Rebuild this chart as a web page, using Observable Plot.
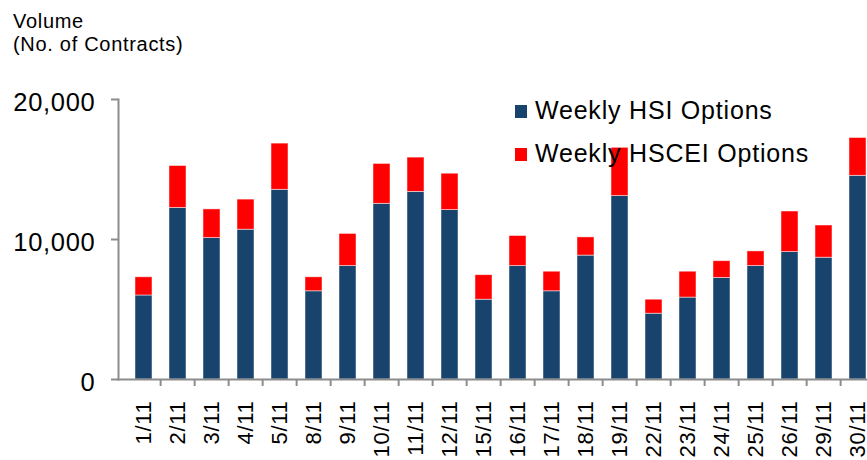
<!DOCTYPE html>
<html>
<head>
<meta charset="utf-8">
<script src="https://cdn.jsdelivr.net/npm/d3@7"></script>
<script src="https://cdn.jsdelivr.net/npm/@observablehq/plot@0.6"></script>
<style>
  html, body { margin: 0; padding: 0; background: #fff; overflow: hidden; }
  #wrap { position: relative; width: 867px; height: 460px; font-family: "Liberation Sans", Arial, sans-serif; }
  #ytitle { position: absolute; left: 13px; top: 10px; font-size: 20px; line-height: 23px; letter-spacing: 0.7px; color: #000; }
  #legend { position: absolute; left: 515px; top: 98px; font-size: 25px; line-height: 25px; letter-spacing: 0.8px; color: #000; }
  .item { position: relative; height: 43px; }
  .sw { position: absolute; left: 0; top: 7px; width: 12px; height: 13px; }
  .lab { position: absolute; left: 20px; top: 0; white-space: nowrap; }
</style>
</head>
<body>
<div id="wrap">
  <div id="chart"></div>
  <div id="ytitle">Volume<br>(No. of Contracts)</div>
  <div id="legend"></div>
</div>
<script>
const dates = ["1/11","2/11","3/11","4/11","5/11","8/11","9/11","10/11","11/11","12/11","15/11","16/11","17/11","18/11","19/11","22/11","23/11","24/11","25/11","26/11","29/11","30/11"];
const hsiOptions = [6000,12250,10100,10700,13550,6300,8100,12550,13400,12100,5700,8100,6300,8850,13100,4700,5850,7250,8100,9100,8700,14550];
const hsceiOptions = [1300,3000,2050,2150,3300,1000,2300,2850,2450,2600,1750,2150,1400,1300,3450,1000,1850,1200,1050,2900,2300,2700];
const seriesNames = ["Weekly HSI Options", "Weekly HSCEI Options"];
const seriesColors = ["#17436c", "#ff0000"];
const yTicks = [0, 10000, 20000];

const data = [];
dates.forEach((d, i) => {
  data.push({date: d, series: seriesNames[0], value: hsiOptions[i]});
  data.push({date: d, series: seriesNames[1], value: hsceiOptions[i]});
});

const xRange = [118, 882];
const step = (xRange[1] - xRange[0]) / dates.length;

const chart = Plot.plot({
  width: 867,
  height: 460,
  marginLeft: 118,
  marginRight: 0,
  marginTop: 99,
  marginBottom: 81,
  style: {fontFamily: "'Liberation Sans', Arial, sans-serif", color: "#000", background: "#fff", letterSpacing: "0.7px"},
  x: {domain: dates, range: xRange, paddingInner: 0.5, paddingOuter: 0.25, align: 0.5},
  y: {domain: [0, 20000]},
  color: {domain: seriesNames, range: seriesColors},
  marks: [
    Plot.barY(data, {x: "date", y: "value", fill: "series", stroke: "#ffffff", strokeOpacity: 0.6, strokeWidth: 0.8}),
    Plot.frame({anchor: "left", stroke: "#8c8c8c", strokeWidth: 2}),
    Plot.frame({anchor: "bottom", stroke: "#8c8c8c", strokeWidth: 2}),
    Plot.ruleX(dates.slice(1), {x: d => d, dx: -step / 2, y1: 0, y2: 0, insetBottom: -7, stroke: "#8c8c8c", strokeWidth: 2}),
    Plot.axisY({ticks: yTicks, tickSize: 7, stroke: "#8c8c8c", strokeWidth: 2, fill: "none", label: null}),
    Plot.axisY({ticks: yTicks, tickFormat: d3.format(","), tickSize: 0, tickPadding: 23, dy: 3, fontSize: 25.5, fill: "#000", label: null}),
    Plot.axisX({tickRotate: -90, tickSize: 0, tickPadding: 21, fontSize: 22, fill: "#000", label: null})
  ]
});
document.getElementById("chart").appendChild(chart);

const legend = document.getElementById("legend");
seriesNames.forEach((name, i) => {
  const item = document.createElement("div");
  item.className = "item";
  item.innerHTML = `<div class="sw" style="background:${seriesColors[i]}"></div><div class="lab">${name}</div>`;
  legend.appendChild(item);
});
</script>
</body>
</html>
